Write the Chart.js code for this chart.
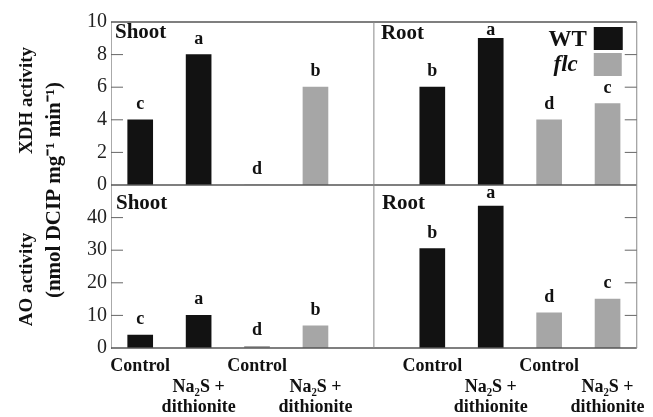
<!DOCTYPE html>
<html>
<head>
<meta charset="utf-8">
<script src="https://cdn.jsdelivr.net/npm/chart.js@4/dist/chart.umd.min.js"></script>
<style>
  html, body { margin: 0; padding: 0; background: #fff; }
  #wrap { width: 653px; height: 417px; }
</style>
</head>
<body>
<div id="wrap"><canvas id="chart"></canvas></div>
<script>
// categories: shoot (4) | gap | root (4)
const categories = [
  ['Control'], ['', 'Na₂S +', 'dithionite'], ['Control'], ['', 'Na₂S +', 'dithionite'],
  '',
  ['Control'], ['', 'Na₂S +', 'dithionite'], ['Control'], ['', 'Na₂S +', 'dithionite']
];

// XDH activity
const xdhWT  = [4, 8, null, null, null, 6, 9, null, null];
const xdhFlc = [null, null, 0, 6, null, null, null, 4, 5];
const xdhWTLetters  = ['c', 'a', null, null, null, 'b', 'a', null, null];
const xdhFlcLetters = [null, null, 'd', 'b', null, null, null, 'd', 'c'];

// AO activity
const aoWT  = [4, 10, null, null, null, 30.5, 43.5, null, null];
const aoFlc = [null, null, 0.5, 6.8, null, null, null, 10.8, 15];
const aoWTLetters  = ['c', 'a', null, null, null, 'b', 'a', null, null];
const aoFlcLetters = [null, null, 'd', 'b', null, null, null, 'd', 'c'];

const xdhTicks = [2, 4, 6, 8];
const aoTicks = [10, 20, 30, 40];

const WT_COLOR = '#121212';
const FLC_COLOR = '#a6a6a6';
const SERIF = '"Liberation Serif", "Times New Roman", serif';

function bar(label, data, color, axis, letters) {
  return {
    label: label, data: data, yAxisID: axis,
    backgroundColor: color, borderWidth: 0,
    barThickness: 25, grouped: false, letters: letters
  };
}

// frame, inner ticks, titles, letters and legend
const decor = {
  id: 'decor',
  afterDatasetsDraw(chart) {
    const ctx = chart.ctx;
    const a = chart.chartArea;
    const x = chart.scales.x;
    const yX = chart.scales.yXDH;
    const yA = chart.scales.yAO;
    const mid = yX.getPixelForValue(0);
    const divX = x.getPixelForValue(4);

    ctx.save();
    ctx.lineWidth = 1.3;
    ctx.strokeStyle = '#555';
    ctx.beginPath();
    ctx.moveTo(a.left, a.top); ctx.lineTo(a.right, a.top);
    ctx.moveTo(a.left, mid); ctx.lineTo(a.right, mid);
    ctx.moveTo(a.left, a.bottom); ctx.lineTo(a.right, a.bottom);
    ctx.stroke();
    ctx.strokeStyle = '#888';
    ctx.lineWidth = 1;
    ctx.beginPath();
    ctx.moveTo(a.right, a.top); ctx.lineTo(a.right, a.bottom);
    ctx.moveTo(divX, a.top); ctx.lineTo(divX, a.bottom);
    ctx.stroke();

    // inward ticks, both sides
    ctx.strokeStyle = '#666';
    ctx.beginPath();
    xdhTicks.forEach(v => {
      const py = yX.getPixelForValue(v);
      ctx.moveTo(a.left, py); ctx.lineTo(a.left + 12, py);
      ctx.moveTo(a.right, py); ctx.lineTo(a.right - 12, py);
    });
    aoTicks.forEach(v => {
      const py = yA.getPixelForValue(v);
      ctx.moveTo(a.left, py); ctx.lineTo(a.left + 12, py);
      ctx.moveTo(a.right, py); ctx.lineTo(a.right - 12, py);
    });
    ctx.stroke();

    // panel names
    ctx.fillStyle = '#111';
    ctx.font = 'bold 21px ' + SERIF;
    ctx.textBaseline = 'middle';
    ctx.textAlign = 'left';
    ctx.fillText('Shoot', a.left + 4, a.top + 11);
    ctx.fillText('Root', divX + 7, a.top + 12);
    ctx.fillText('Shoot', a.left + 5, mid + 19);
    ctx.fillText('Root', divX + 8, mid + 19);

    // significance letters (kept inside their panel)
    ctx.font = 'bold 18px ' + SERIF;
    ctx.textAlign = 'center';
    ctx.textBaseline = 'alphabetic';
    chart.data.datasets.forEach((ds, i) => {
      const meta = chart.getDatasetMeta(i);
      const top = ds.yAxisID === 'yXDH' ? a.top : mid;
      meta.data.forEach((el, j) => {
        const l = ds.letters[j];
        if (l) ctx.fillText(l, el.x, Math.max(el.y - 11, top + 13));
      });
    });

    // axis titles
    ctx.font = 'bold 19px ' + SERIF;
    ctx.textBaseline = 'middle';
    function vtext(t, px, py) {
      ctx.save();
      ctx.translate(px, py);
      ctx.rotate(-Math.PI / 2);
      ctx.fillText(t, 0, 0);
      ctx.restore();
    }
    vtext('XDH activity', 27, (a.top + mid) / 2 - 3);
    vtext('AO activity', 27, (mid + a.bottom) / 2 + 13);
    ctx.font = 'bold 21px ' + SERIF;
    vtext('(nmol DCIP mg⁻¹ min⁻¹)', 55, (a.top + a.bottom) / 2 + 5);

    // legend
    const bx = a.right - 43;
    ctx.fillStyle = WT_COLOR;
    ctx.fillRect(bx, a.top + 5, 29, 23);
    ctx.fillStyle = FLC_COLOR;
    ctx.fillRect(bx, a.top + 31, 28, 23);
    ctx.fillStyle = '#111';
    ctx.textAlign = 'right';
    ctx.font = 'bold 23px ' + SERIF;
    ctx.fillText('WT', bx - 7, a.top + 18);
    ctx.font = 'italic bold 23px ' + SERIF;
    ctx.fillText('flc', bx - 16, a.top + 43);
    ctx.restore();
  }
};

const yCommon = {
  type: 'linear',
  position: 'left',
  stack: 'panels',
  stackWeight: 1,
  grid: { display: false, drawTicks: false },
  border: { display: true, color: '#aaa', dash: [2, 2] },
  afterFit: s => { s.width = 111; }
};

new Chart(document.getElementById('chart'), {
  type: 'bar',
  data: {
    labels: categories,
    datasets: [
      bar('WT', xdhWT, WT_COLOR, 'yXDH', xdhWTLetters),
      bar('flc', xdhFlc, FLC_COLOR, 'yXDH', xdhFlcLetters),
      bar('WT', aoWT, WT_COLOR, 'yAO', aoWTLetters),
      bar('flc', aoFlc, FLC_COLOR, 'yAO', aoFlcLetters)
    ]
  },
  options: {
    responsive: true,
    maintainAspectRatio: false,
    animation: false,
    layout: { padding: { left: 0, top: 22, right: 8, bottom: 0 } },
    plugins: { legend: { display: false }, tooltip: { enabled: false } },
    scales: {
      x: {
        offset: true,
        grid: { display: false, drawTicks: false },
        border: { display: false },
        ticks: {
          autoSkip: false, maxRotation: 0, padding: 8, color: '#111',
          font: { family: SERIF, size: 18, weight: 'bold', lineHeight: 1.15 }
        },
        afterFit: s => { s.height = 69; }
      },
      // listed first so it sits below the XDH panel
      yAO: Object.assign({}, yCommon, {
        min: 0, max: 50,
        ticks: {
          stepSize: 10, autoSkip: false, padding: 4, color: '#222',
          font: { family: SERIF, size: 20 },
          callback: v => (v === 50 ? '' : v)
        }
      }),
      yXDH: Object.assign({}, yCommon, {
        min: 0, max: 10,
        ticks: {
          stepSize: 2, autoSkip: false, padding: 4, color: '#222',
          font: { family: SERIF, size: 20 }
        }
      })
    }
  },
  plugins: [decor]
});
</script>
</body>
</html>
